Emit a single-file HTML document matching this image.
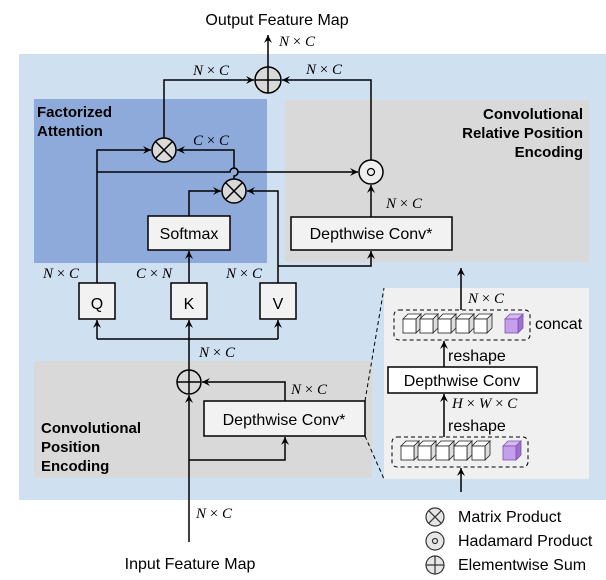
<!DOCTYPE html>
<html><head><meta charset="utf-8"><style>
html,body{margin:0;padding:0;background:#fff;}
svg{display:block;}
.t{font-family:"Liberation Sans",sans-serif;font-size:16px;fill:#000;}
.b{font-family:"Liberation Sans",sans-serif;font-size:15px;font-weight:bold;fill:#000;}
.m{font-family:"Liberation Serif",serif;font-size:15px;font-style:italic;fill:#000;}
.m tspan.x{font-style:normal;}
</style></head><body>
<svg width="606" height="580" viewBox="0 0 606 580" xmlns="http://www.w3.org/2000/svg">
<defs>
<marker id="a" markerWidth="10" markerHeight="10" refX="8" refY="5" orient="auto" markerUnits="userSpaceOnUse">
<path d="M0,1 L8,5 L0,9 L3,5 Z" fill="#000"/></marker>
<g id="cube"><path d="M0,5 L5,0 L18,0 L13,5 Z" fill="#fff" stroke="#222" stroke-width="0.8"/><path d="M13,5 L18,0 L18,14 L13,19 Z" fill="#ddd" stroke="#222" stroke-width="0.8"/><rect x="0" y="5" width="13" height="14" fill="#fff" stroke="#222" stroke-width="0.8"/></g>
<g id="pcube"><path d="M0,5 L5,0 L18,0 L13,5 Z" fill="#d5b8f0" stroke="#8050b0" stroke-width="0.8"/><path d="M13,5 L18,0 L18,14 L13,19 Z" fill="#a070d0" stroke="#8050b0" stroke-width="0.8"/><rect x="0" y="5" width="13" height="14" fill="#c4a0ec" stroke="#8050b0" stroke-width="0.8"/></g>
</defs>
<rect x="19" y="54" width="587" height="446" fill="#cfe0f1"/>
<rect x="34" y="99" width="233" height="164" fill="#8eaadb"/>
<rect x="285" y="100" width="304" height="162" fill="#d9d9d9"/>
<rect x="34" y="361" width="338" height="117" fill="#d9d9d9"/>
<rect x="384" y="288" width="205" height="191" fill="#f0f0f0"/>
<g fill="none" stroke="#000" stroke-width="1.5">
<line x1="268" y1="67" x2="268" y2="35" marker-end="url(#a)"/>
<path d="M164,138 V80 H254" marker-end="url(#a)"/>
<path d="M371,160 V80 H282" marker-end="url(#a)"/>
<path d="M97,283 V150 H151" marker-end="url(#a)"/>
<path d="M234,179 V176 A4,4 0 0 0 234,168 V150 H177" marker-end="url(#a)"/>
<path d="M97,172 H230 A4,4 0 0 1 238,172 H358" marker-end="url(#a)"/>
<path d="M189,216 V191 H221" marker-end="url(#a)"/>
<path d="M278,283 V191 H247" marker-end="url(#a)"/>
<line x1="189" y1="283" x2="189" y2="251" marker-end="url(#a)"/>
<path d="M278,266 H371 V251" marker-end="url(#a)"/>
<line x1="371" y1="217" x2="371" y2="185" marker-end="url(#a)"/>
<path d="M97,339 H278"/>
<line x1="97" y1="339" x2="97" y2="320" marker-end="url(#a)"/>
<line x1="189" y1="339" x2="189" y2="320" marker-end="url(#a)"/>
<line x1="278" y1="339" x2="278" y2="320" marker-end="url(#a)"/>
<line x1="189" y1="370" x2="189" y2="339"/>
<line x1="189" y1="542" x2="189" y2="395" marker-end="url(#a)"/>
<path d="M285,401 V382 H202" marker-end="url(#a)"/>
<path d="M189,460 H285 V437" marker-end="url(#a)"/>
<line x1="461" y1="310" x2="461" y2="268" marker-end="url(#a)"/>
<line x1="444" y1="367" x2="444" y2="341" marker-end="url(#a)"/>
<line x1="444" y1="437" x2="444" y2="394" marker-end="url(#a)"/>
<line x1="461" y1="492" x2="461" y2="468" marker-end="url(#a)"/>
</g>
<g stroke="#000" stroke-width="1" stroke-dasharray="4,3" fill="none">
<line x1="365" y1="401" x2="384" y2="288"/>
<line x1="365" y1="436" x2="384" y2="479"/>
<rect x="394" y="310" width="136" height="30" rx="5"/>
<rect x="392" y="437" width="136" height="30" rx="5"/>
</g>
<use href="#cube" x="403" y="314"/><use href="#cube" x="420" y="314"/><use href="#cube" x="438" y="314"/><use href="#cube" x="456" y="314"/><use href="#cube" x="474" y="314"/><use href="#pcube" x="505" y="314"/>
<use href="#cube" x="401" y="441"/><use href="#cube" x="418" y="441"/><use href="#cube" x="436" y="441"/><use href="#cube" x="454" y="441"/><use href="#cube" x="472" y="441"/><use href="#pcube" x="503" y="441"/>
<g stroke="#000" stroke-width="1.5">
<ellipse cx="268" cy="80" rx="13" ry="13" fill="#d9d9d9"/><path d="M255,80 H281 M268,67 V93"/>
<circle cx="164" cy="150" r="12" fill="#d9d9d9"/><path d="M155.5,141.5 L172.5,158.5 M172.5,141.5 L155.5,158.5"/>
<circle cx="234" cy="191" r="12" fill="#d9d9d9"/><path d="M225.5,182.5 L242.5,199.5 M242.5,182.5 L225.5,199.5"/>
<circle cx="371" cy="172" r="12" fill="#eee"/><circle cx="371" cy="172" r="3.5" fill="none" stroke-width="1.2"/>
<circle cx="189" cy="382" r="12" fill="none"/><path d="M177,382 H201 M189,370 V394"/>
</g>
<g stroke="#000" stroke-width="1.5" fill="#f2f2f2">
<rect x="148" y="216" width="82" height="34"/>
<rect x="291" y="217" width="161" height="33"/>
<rect x="79" y="283" width="36" height="36"/>
<rect x="171" y="283" width="36" height="36"/>
<rect x="260" y="283" width="36" height="36"/>
<rect x="204" y="401" width="161" height="35"/>
<rect x="388" y="367" width="149" height="26" fill="#fff"/>
</g>
<g stroke="#333" stroke-width="1.2">
<circle cx="435" cy="517" r="9" fill="#e6e6e6"/><path d="M428.6,510.6 L441.4,523.4 M441.4,510.6 L428.6,523.4"/>
<circle cx="435" cy="541" r="9" fill="#e6e6e6"/><circle cx="435" cy="541" r="2.5" fill="none"/>
<circle cx="435" cy="565" r="9" fill="#e6e6e6"/><path d="M426,565 H444 M435,556 V574"/>
</g>
<text class="t" x="277" y="25" text-anchor="middle">Output Feature Map</text>
<text class="t" x="190" y="569" text-anchor="middle">Input Feature Map</text>
<text class="b" x="37" y="117">Factorized</text><text class="b" x="37" y="136">Attention</text>
<text class="b" x="583" y="119" text-anchor="end">Convolutional</text>
<text class="b" x="583" y="138" text-anchor="end">Relative Position</text>
<text class="b" x="583" y="157" text-anchor="end">Encoding</text>
<text class="b" x="41" y="433">Convolutional</text><text class="b" x="41" y="452">Position</text><text class="b" x="41" y="471">Encoding</text>
<text class="t" x="189" y="239" text-anchor="middle">Softmax</text>
<text class="t" x="371" y="239" text-anchor="middle">Depthwise Conv*</text>
<text class="t" x="284" y="425" text-anchor="middle">Depthwise Conv*</text>
<text class="t" x="462" y="386" text-anchor="middle">Depthwise Conv</text>
<text class="t" x="97" y="309" text-anchor="middle" font-size="20">Q</text>
<text class="t" x="189" y="309" text-anchor="middle" font-size="20">K</text>
<text class="t" x="278" y="309" text-anchor="middle" font-size="20">V</text>
<text class="t" x="535" y="329">concat</text>
<text class="t" x="448" y="361">reshape</text>
<text class="t" x="448" y="431">reshape</text>
<text class="t" x="458" y="522" font-size="15">Matrix Product</text>
<text class="t" x="458" y="546" font-size="15">Hadamard Product</text>
<text class="t" x="458" y="570" font-size="15">Elementwise Sum</text>
<g class="m">
<text class="m" x="279" y="46">N <tspan class="x">×</tspan> C</text>
<text class="m" x="193" y="75">N <tspan class="x">×</tspan> C</text>
<text class="m" x="306" y="74">N <tspan class="x">×</tspan> C</text>
<text class="m" x="193" y="145">C <tspan class="x">×</tspan> C</text>
<text class="m" x="386" y="208">N <tspan class="x">×</tspan> C</text>
<text class="m" x="43" y="278">N <tspan class="x">×</tspan> C</text>
<text class="m" x="136" y="278">C <tspan class="x">×</tspan> N</text>
<text class="m" x="226" y="278">N <tspan class="x">×</tspan> C</text>
<text class="m" x="199" y="357">N <tspan class="x">×</tspan> C</text>
<text class="m" x="291" y="394">N <tspan class="x">×</tspan> C</text>
<text class="m" x="196" y="518">N <tspan class="x">×</tspan> C</text>
<text class="m" x="468" y="303">N <tspan class="x">×</tspan> C</text>
<text class="m" x="452" y="408">H <tspan class="x">×</tspan> W <tspan class="x">×</tspan> C</text>
</g>
</svg>
</body></html>
